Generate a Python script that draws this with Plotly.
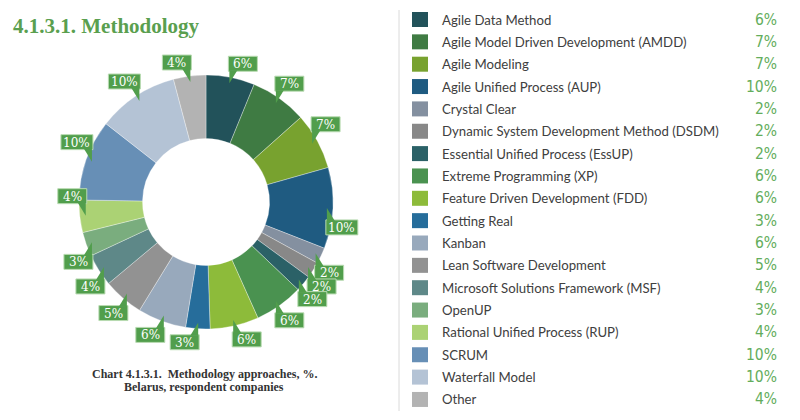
import math
import plotly.graph_objects as go

# ---------------- data ----------------
methods = [
    "Agile Data Method",
    "Agile Model Driven Development (AMDD)",
    "Agile Modeling",
    "Agile Unified Process (AUP)",
    "Crystal Clear",
    "Dynamic System Development Method (DSDM)",
    "Essential Unified Process (EssUP)",
    "Extreme Programming (XP)",
    "Feature Driven Development (FDD)",
    "Getting Real",
    "Kanban",
    "Lean Software Development",
    "Microsoft Solutions Framework (MSF)",
    "OpenUP",
    "Rational Unified Process (RUP)",
    "SCRUM",
    "Waterfall Model",
    "Other",
]
shares = [6, 7, 7, 10, 2, 2, 2, 6, 6, 3, 6, 5, 4, 3, 4, 10, 10, 4]
share_labels = [f"{v}%" for v in shares]
colors = [
    "#22525a", "#3f7b43", "#78a22f", "#1f5b81", "#8490a0", "#888888",
    "#2b6167", "#4a9250", "#8dbb3a", "#266d9b", "#98a9bc", "#929292",
    "#5e8888", "#7aad7e", "#abd274", "#678fb6", "#b4c3d5", "#b3b3b3",
]
title_text = "4.1.3.1. Methodology"
caption_lines = ["Chart 4.1.3.1.  Methodology approaches, %.",
                 "Belarus, respondent companies"]

# ---------------- layout constants (window pixels) ----------------
OFF = 8            # default body margin of the page
FW, FH = 784, 404  # figure size so the page fits the 800x420 window
CX, CY, R = 206, 202, 127
HOLE = 0.5
TIP_R = 121
TAIL = 12
BOX_H = 15
GREEN_BOX = "#519e4c"


def px(x):
    return (x - OFF) / FW


def py(y):
    return 1 - (y - OFF) / FH


fig = go.Figure(
    go.Pie(
        labels=methods,
        values=shares,
        sort=False,
        direction="clockwise",
        rotation=0,
        hole=HOLE,
        marker=dict(colors=colors, line=dict(color="rgba(255,255,255,0.55)", width=0.6)),
        textinfo="none",
        hoverinfo="label+text",
        hovertext=share_labels,
        showlegend=False,
        domain=dict(x=[px(CX - R), px(CX + R)], y=[py(CY + R), py(CY - R)]),
    )
)

shapes = []
annotations = []

# ---------------- callout labels on the donut ----------------
total = sum(shares)
cum = 0
for v, lab in zip(shares, share_labels):
    mid = (cum + v / 2) / total * 360
    cum += v
    a = math.radians(mid)
    tx = CX + TIP_R * math.sin(a)
    ty = CY - TIP_R * math.cos(a)
    right = math.sin(a) >= 0
    down = (mid < 90) or (mid > 260)  # tail points down (box above)
    bw = 29 if len(lab) == 2 else 32
    if right:
        x0, x1 = tx - 1, tx - 1 + bw
        edge = x0 + 1
        tail_x2 = edge + 8
    else:
        x0, x1 = tx + 1 - bw, tx + 1
        edge = x1 - 1
        tail_x2 = edge - 8
    if down:
        y1 = ty - TAIL
        y0 = y1 - BOX_H
        join = y1 - 1
    else:
        y0 = ty + TAIL
        y1 = y0 + BOX_H
        join = y0 + 1
    shapes.append(dict(type="rect", xref="paper", yref="paper",
                       x0=px(x0), x1=px(x1), y0=py(y1), y1=py(y0),
                       fillcolor=GREEN_BOX, line=dict(color="#b9dbb2", width=1),
                       layer="above"))
    path = (f"M {px(edge)} {py(join)} L {px(tail_x2)} {py(join)} "
            f"L {px(edge)} {py(ty)} Z")
    shapes.append(dict(type="path", xref="paper", yref="paper", path=path,
                       fillcolor=GREEN_BOX, line=dict(width=0), layer="above"))
    annotations.append(dict(x=px((x0 + x1) / 2), y=py((y0 + y1) / 2 + 0.5),
                            xref="paper", yref="paper", text=lab, showarrow=False,
                            xanchor="center", yanchor="middle",
                            font=dict(family="DejaVu Serif", size=12, color="white")))

# ---------------- legend (right) ----------------
ROW0, ROW_STEP = 19.5, 22.35
shapes.append(dict(type="line", xref="paper", yref="paper",
                   x0=px(399), x1=px(399), y0=py(10), y1=py(411),
                   line=dict(color="#dadada", width=1)))
for i, (name, lab, c) in enumerate(zip(methods, share_labels, colors)):
    yc = ROW0 + i * ROW_STEP
    shapes.append(dict(type="rect", xref="paper", yref="paper",
                       x0=px(412), x1=px(428), y0=py(yc + 7.5), y1=py(yc - 7.5),
                       fillcolor=c, line=dict(width=0)))
    annotations.append(dict(x=px(440), y=py(yc), xref="paper", yref="paper",
                            text=name, showarrow=False, xanchor="left", yanchor="middle",
                            font=dict(family="Lato", size=13.2, color="#404040")))
    annotations.append(dict(x=px(779), y=py(yc), xref="paper", yref="paper",
                            text=lab, showarrow=False, xanchor="right", yanchor="middle",
                            font=dict(family="DejaVu Sans Condensed, sans-serif",
                                      size=15.5, color="#63ad5c")))

# ---------------- title & caption ----------------
annotations.append(dict(x=px(11), y=py(26), xref="paper", yref="paper",
                        text=title_text, showarrow=False, xanchor="left", yanchor="middle",
                        font=dict(family="Liberation Serif", size=21, color="#5a9f4f",
                                  weight="bold")))
for k, line in enumerate(caption_lines):
    annotations.append(dict(x=px(204), y=py(374 + 13 * k), xref="paper", yref="paper",
                            text=line, showarrow=False, xanchor="center", yanchor="middle",
                            font=dict(family="Liberation Serif", size=12, color="#333333",
                                      weight="bold")))

fig.update_layout(
    width=FW, height=FH, autosize=False,
    margin=dict(l=0, r=0, t=0, b=0),
    paper_bgcolor="white", plot_bgcolor="white",
    shapes=shapes, annotations=annotations,
    showlegend=False,
)

fig.write_html("out.html", config={"displayModeBar": False})
